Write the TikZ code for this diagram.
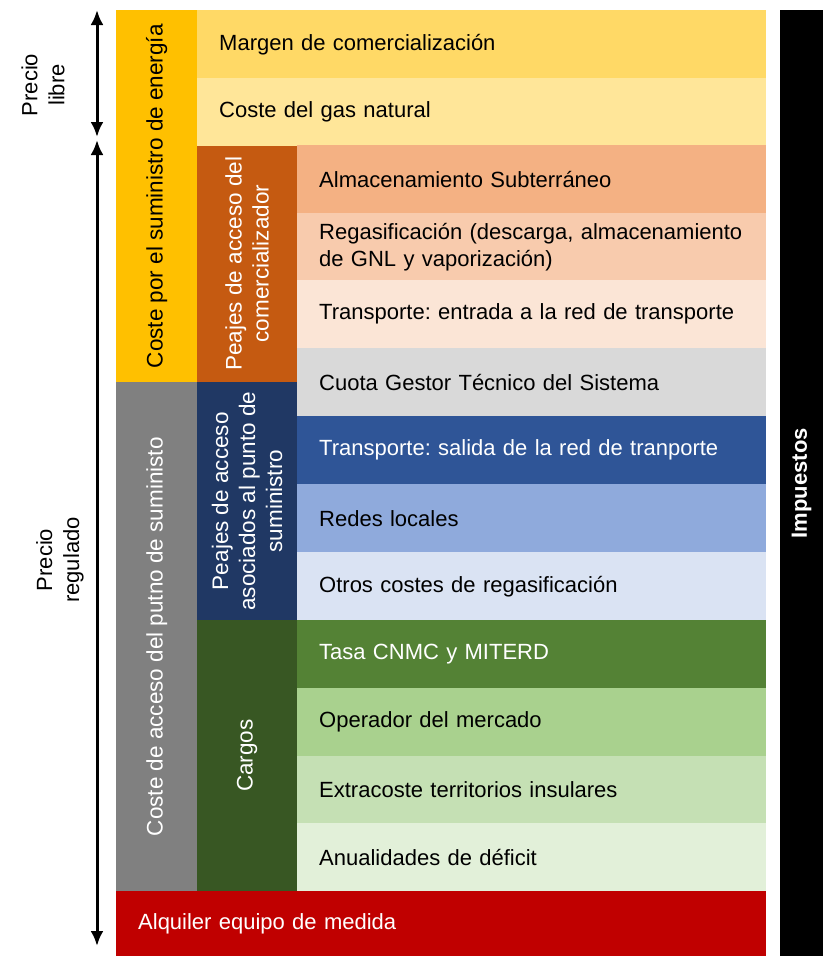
\documentclass[tikz,border=0pt]{standalone}
\usepackage{fontspec}
\setmainfont{Liberation Sans}
\usepackage{tikz}
\usetikzlibrary{arrows.meta}
\usetikzlibrary{shapes}
\usetikzlibrary{positioning}
\frenchspacing
\definecolor{amarillo}{HTML}{FFC000}
\definecolor{margen}{HTML}{FFD966}
\definecolor{gas}{HTML}{FFE699}
\definecolor{naranja}{HTML}{C55A11}
\definecolor{almac}{HTML}{F4B183}
\definecolor{regas}{HTML}{F8CBAD}
\definecolor{entrada}{HTML}{FBE5D6}
\definecolor{cuota}{HTML}{D9D9D9}
\definecolor{gris}{HTML}{808080}
\definecolor{marino}{HTML}{203864}
\definecolor{salida}{HTML}{2F5597}
\definecolor{redes}{HTML}{8FAADC}
\definecolor{otros}{HTML}{DAE3F3}
\definecolor{verdeosc}{HTML}{385723}
\definecolor{tasa}{HTML}{548235}
\definecolor{operador}{HTML}{A9D18E}
\definecolor{extra}{HTML}{C5E0B4}
\definecolor{anual}{HTML}{E2F0D9}
\definecolor{rojo}{HTML}{C00000}
\tikzstyle{cell}=[rectangle,anchor=north west,inner xsep=22pt,inner ysep=0pt,minimum height=68pt,align=left,font=\fontsize{22}{27}\selectfont]
\tikzstyle{item}=[cell,text width=425pt]
\tikzstyle{wide}=[cell,text width=525pt]
\tikzstyle{blk}=[rectangle,anchor=north west,inner sep=0pt]
\tikzstyle{vlab}=[rotate=90,align=center,text=white,inner sep=0pt,font=\fontsize{22.5}{27}\selectfont]
\tikzstyle{span}=[draw,line width=3pt,{Latex[length=15pt,width=13pt]}-{Latex[length=15pt,width=13pt]}]

\begin{document}
\begin{tikzpicture}[x=1pt,y=-1pt]
\useasboundingbox (0,0) rectangle (823,956);

% columnas de la izquierda
\node[blk,fill=amarillo,minimum width=81pt,minimum height=372pt] (energia) at (116,10) {};
\node[blk,fill=gris,minimum width=81pt,minimum height=509pt] (acceso) at (116,382) {};
\node[blk,fill=naranja,minimum width=100pt,minimum height=237pt] (pcom) at (197,145) {};
\node[blk,fill=marino,minimum width=100pt,minimum height=238pt] (ppunto) at (197,382) {};
\node[blk,fill=verdeosc,minimum width=100pt,minimum height=271pt] (cargos) at (197,620) {};

\node[vlab,text=black] (tenergia) at (energia.center) {Coste por el suministro de energía};
\node[vlab] (tacceso) at (acceso.center) {Coste de acceso del putno de suministo};
\node[vlab] (tpcom) at (pcom.center) {Peajes de acceso del\\comercializador};
\node[vlab] (tppunto) at (ppunto.center) {Peajes de acceso\\asociados al punto de\\suministro};
\node[vlab] (tcargos) at (cargos.center) {Cargos};

% filas
\node[wide,fill=margen] (margen) at (197,10) {Margen de comercialización};
\node[wide,fill=gas] (gas) at (197,77.5) {Coste del gas natural};
\node[item,fill=almac] (almac) at (297,145) {Almacenamiento Subterráneo};
\node[item,fill=regas] (regas) at (297,212.5) {Regasificación (descarga, almacenamiento\\de GNL y vaporización)};
\node[item,fill=entrada] (entrada) at (297,280) {Transporte: entrada a la red de transporte};
\node[item,fill=cuota] (cuota) at (297,348) {Cuota Gestor Técnico del Sistema};
\node[item,fill=salida,text=white] (salida) at (297,416) {Transporte: salida de la red de tranporte};
\node[item,fill=redes] (redes) at (297,484) {Redes locales};
\node[item,fill=otros] (otros) at (297,552) {Otros costes de regasificación};
\node[item,fill=tasa,text=white] (tasa) at (297,620) {Tasa CNMC y MITERD};
\node[item,fill=operador] (operador) at (297,688) {Operador del mercado};
\node[item,fill=extra] (extra) at (297,755.5) {Extracoste territorios insulares};
\node[item,fill=anual] (anual) at (297,823) {Anualidades de déficit};
\node[cell,fill=rojo,text=white,text width=606pt,minimum height=65pt] (alquiler) at (116,891) {Alquiler equipo de medida};

% impuestos
\node[blk,fill=black,minimum width=43pt,minimum height=946pt] (imp) at (780,10) {};
\node[vlab,font=\fontsize{22}{27}\selectfont\bfseries] (timp) at (imp.center) {Impuestos};

% flechas de precio
\coordinate (lt) at (97,10);
\coordinate (lb) at (97,137);
\coordinate (rt) at (97,140);
\coordinate (rb) at (97,946);
\draw[span] (lt) -- (lb);
\draw[span] (rt) -- (rb);
\node[vlab,text=black,font=\fontsize{22}{27}\selectfont] (libre) at (43,85) {Precio\\libre};
\node[vlab,text=black,font=\fontsize{22}{27}\selectfont] (regulado) at (60,560) {Precio\\regulado};
\end{tikzpicture}
\end{document}
